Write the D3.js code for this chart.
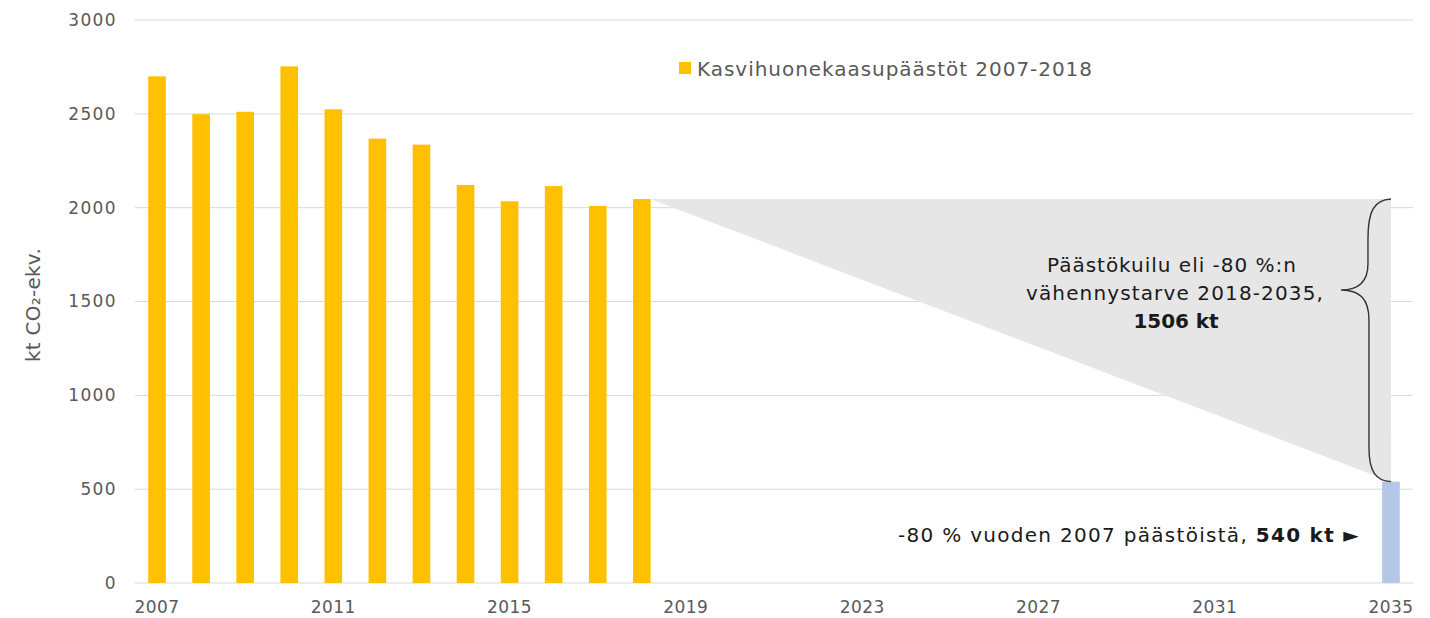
<!DOCTYPE html>
<html><head><meta charset="utf-8">
<script src="https://cdn.jsdelivr.net/npm/d3@7"></script>
<style>body{margin:0;background:#fff;} svg{display:block;font-family:"DejaVu Sans",sans-serif;}</style>
</head><body><svg id="c" width="1430" height="618"></svg>
<script>
const years = d3.range(2007, 2036).map(String);
const histYears = ["2007","2008","2009","2010","2011","2012","2013","2014","2015","2016","2017","2018"];
const histValues = [2700, 2498, 2511, 2753, 2524, 2368, 2336, 2121, 2034, 2115, 2009, 2046];
const targetYear = "2035";
const targetValue = 540;
const gapValue = 1506;
const yTicks = [0, 500, 1000, 1500, 2000, 2500, 3000];
const xTickLabels = ["2007","2011","2015","2019","2023","2027","2031","2035"];
const legendLabel = "Kasvihuonekaasupäästöt 2007-2018";
const yTitle = "kt CO₂-ekv.";

const svg = d3.select("#c");
const x = d3.scaleBand().domain(years).range([135, 1413]).paddingInner(0.6).paddingOuter(0.3);
const y = d3.scaleLinear().domain([0, 3000]).range([583, 20]);
const grey = "#595959";
const FONT = "DejaVu Sans";

function fit(sel, w) {
  sel.each(function() {
    const t = d3.select(this);
    const L = this.getComputedTextLength();
    const n = t.text().length;
    t.style("letter-spacing", ((w - L) / n) + "px");
  });
}

// gridlines
svg.append("g").selectAll("line").data(yTicks).join("line")
  .attr("x1", 135).attr("x2", 1413)
  .attr("y1", d => y(d)).attr("y2", d => y(d))
  .attr("stroke", "#d9d9d9").attr("stroke-width", 1);

// y labels
const yAxis = d3.axisLeft(y).tickValues(yTicks).tickFormat(d3.format("d")).tickSize(0).tickPadding(0);
const ya = svg.append("g").attr("transform", "translate(117,0)").call(yAxis);
ya.select(".domain").remove();
ya.selectAll("text").attr("fill", grey).style("font-size", "17px").style("font-family", FONT);
ya.selectAll("text").each(function(d) { fit(d3.select(this), String(d).length * 12.2); });

// x labels
const xAxis = d3.axisBottom(x).tickValues(xTickLabels).tickSize(0).tickPadding(0);
const xa = svg.append("g").attr("transform", "translate(0,601)").call(xAxis);
xa.select(".domain").remove();
xa.selectAll("text").attr("fill", grey).style("font-size", "17px").style("font-family", FONT);
fit(xa.selectAll("text"), 45);

// gap triangle
const lastYear = histYears[histYears.length - 1];
const lastVal = histValues[histValues.length - 1];
const xs = x(lastYear) + x.bandwidth();
const xe = x(targetYear) + x.bandwidth() / 2;
svg.append("path")
  .attr("d", `M${xs},${y(lastVal)} L${xe},${y(lastVal)} L${xe},${y(lastVal - gapValue)} Z`)
  .attr("fill", "#e6e6e6");

// bars
svg.append("g").selectAll("rect").data(histYears.map((yr, i) => ({yr, v: histValues[i]}))).join("rect")
  .attr("x", d => x(d.yr)).attr("width", x.bandwidth())
  .attr("y", d => y(d.v)).attr("height", d => y(0) - y(d.v))
  .attr("fill", "#FFC000");
svg.append("rect").attr("x", x(targetYear)).attr("width", x.bandwidth())
  .attr("y", y(targetValue)).attr("height", y(0) - y(targetValue)).attr("fill", "#B4C7E7");

// brace
const bx = xe, yt = y(lastVal), yb = y(targetValue), tipY = 290;
svg.append("path")
  .attr("d", `M${bx},${yt} C${bx-17},${yt+1} ${bx-23},${yt+12} ${bx-23},${yt+40} L${bx-23},${tipY-26} C${bx-23},${tipY-8} ${bx-32},${tipY} ${bx-50},${tipY} C${bx-32},${tipY} ${bx-22},${tipY+8} ${bx-22},${tipY+30} L${bx-22},${yb-34} C${bx-22},${yb-10} ${bx-15},${yb-1} ${bx},${yb}`)
  .attr("fill", "none").attr("stroke", "#333").attr("stroke-width", 1.4);

// gap text
function line(txt, cx, yy, w, bold) {
  const t = svg.append("text").attr("text-anchor", "middle").attr("x", cx).attr("y", yy)
    .attr("fill", "#1a1a1a").style("font-size", "20px").style("font-weight", bold ? "bold" : "normal").text(txt);
  fit(t, w);
  return t;
}
line("Päästökuilu eli -80 %:n", 1172, 272, 250, false);
line("vähennystarve 2018-2035,", 1175, 300, 298, false);
line(gapValue + " kt", 1176, 328, 85, true);

// target text
const tt = svg.append("text").attr("text-anchor", "end").attr("x", 1360).attr("y", 542)
  .attr("fill", "#1a1a1a").style("font-size", "20px");
tt.append("tspan").text("-80 % vuoden 2007 päästöistä, ");
tt.append("tspan").style("font-weight", "bold").text(targetValue + " kt ►");
fit(tt, 462);

// legend
svg.append("rect").attr("x", 679).attr("y", 62).attr("width", 12).attr("height", 12).attr("fill", "#FFC000");
const lg = svg.append("text").attr("x", 697).attr("y", 76).attr("fill", grey).style("font-size", "20px").text(legendLabel);
fit(lg, 396);

// y title
const yt2 = svg.append("text").attr("transform", "translate(40,305) rotate(-90)").attr("text-anchor", "middle")
  .attr("fill", grey).style("font-size", "20px").text(yTitle);
fit(yt2, 114);
</script></body></html>
